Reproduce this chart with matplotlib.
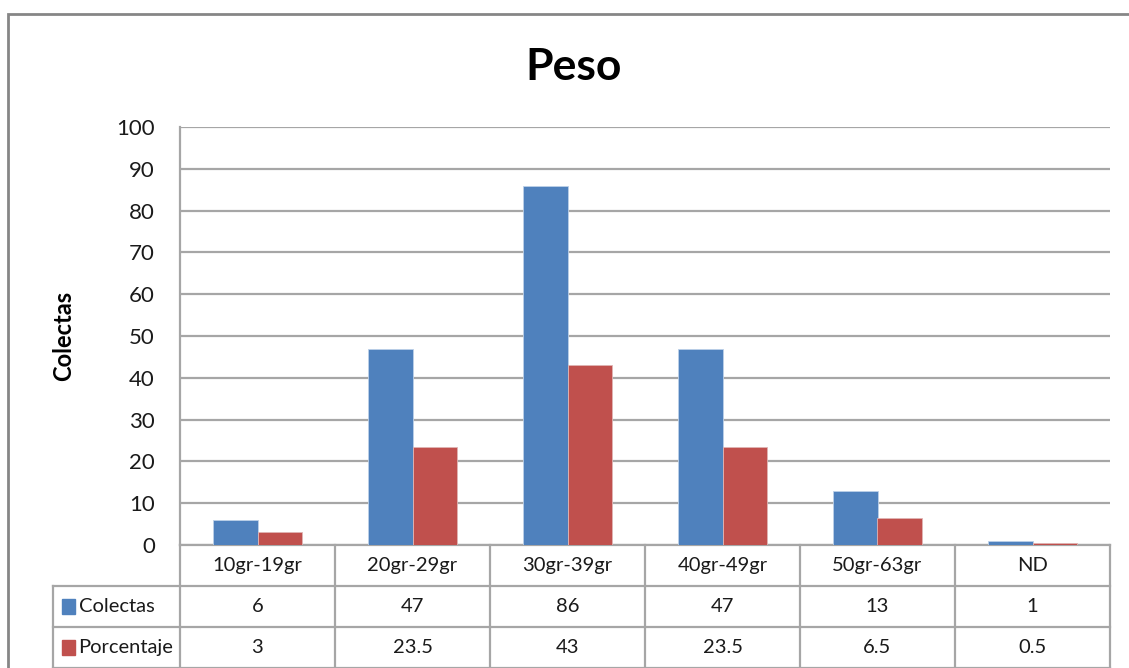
import matplotlib.pyplot as plt
import matplotlib.transforms as mtransforms
from matplotlib.patches import Rectangle
import numpy as np

plt.rcParams['font.family'] = ['Lato', 'DejaVu Sans']

categories = ['10gr-19gr', '20gr-29gr', '30gr-39gr', '40gr-49gr', '50gr-63gr', 'ND']
colectas = [6, 47, 86, 47, 13, 1]
porcentaje = [3, 23.5, 43, 23.5, 6.5, 0.5]
series_names = ['Colectas', 'Porcentaje']
labels_colectas = ['6', '47', '86', '47', '13', '1']
labels_porcentaje = ['3', '23.5', '43', '23.5', '6.5', '0.5']

blue = '#4F81BD'
red = '#C0504D'
grid_col = '#a6a6a6'

W, H = 1129, 668
fig = plt.figure(figsize=(W / 100, H / 100), dpi=100)

# outer chart border (right and bottom fall outside the picture)
fig.patches.append(Rectangle((8 / W, -0.05), 1.2, 1 - 14 / H + 0.05, transform=fig.transFigure,
                             fill=False, edgecolor='#868686', linewidth=2))

ax = fig.add_axes([180 / W, (H - 545) / H, 930 / W, 418 / H])
x = np.arange(len(categories))
bw = 0.29
ax.bar(x - bw / 2, colectas, bw, color=blue, edgecolor='#bcd0e8', linewidth=0.6, zorder=3)
ax.bar(x + bw / 2, porcentaje, bw, color=red, edgecolor='#e0b5b4', linewidth=0.6, zorder=3)

ax.set_xlim(-0.5, len(categories) - 0.5)
ax.set_ylim(0, 100)
ax.set_yticks(np.arange(0, 101, 10))
ax.yaxis.grid(True, color=grid_col, linewidth=1.6)
ax.set_axisbelow(True)
for s in ['top', 'right', 'bottom']:
    ax.spines[s].set_visible(False)
ax.spines['left'].set_color(grid_col)
ax.spines['left'].set_linewidth(1.6)
ax.tick_params(axis='y', length=0, labelsize=16, pad=18, labelcolor='#1a1a1a')
ax.set_xticks([])
ax.set_ylabel('Colectas', fontsize=17, fontweight='bold', labelpad=30)

fig.text(0.508, 1 - 67 / H, 'Peso', ha='center', va='center', fontsize=32, fontweight='bold')

# data table below axes
trans = mtransforms.blended_transform_factory(ax.transData, ax.transAxes)
row_h = 41 / 418
left_x = -0.5 - 127 / 155
right_x = len(categories) - 0.5
rows = [categories, labels_colectas, labels_porcentaje]
kw = dict(transform=trans, color=grid_col, linewidth=1.6, clip_on=False)

# horizontal lines
ax.plot([-0.5, right_x], [0, 0], **kw)
for r in range(1, 4):
    ax.plot([left_x, right_x], [-r * row_h, -r * row_h], **kw)
# vertical lines
ax.plot([left_x, left_x], [-row_h, -3 * row_h], **kw)
for i in range(len(categories) + 1):
    ax.plot([i - 0.5, i - 0.5], [0, -3 * row_h], **kw)

for r, row in enumerate(rows):
    yc = -(r + 0.5) * row_h
    for i, t in enumerate(row):
        ax.text(i, yc, t, transform=trans, ha='center', va='center', fontsize=14.5, color='#1a1a1a')

for j, (name, c) in enumerate(zip(series_names, [blue, red])):
    yc = -(j + 1.5) * row_h
    ax.add_patch(Rectangle((left_x + 0.06, yc - 0.017), 0.08, 0.034, transform=trans,
                           color=c, clip_on=False))
    ax.text(left_x + 0.165, yc, name, transform=trans, ha='left', va='center', fontsize=14.5,
            color='#1a1a1a')

fig.savefig('out.png', dpi=100)
